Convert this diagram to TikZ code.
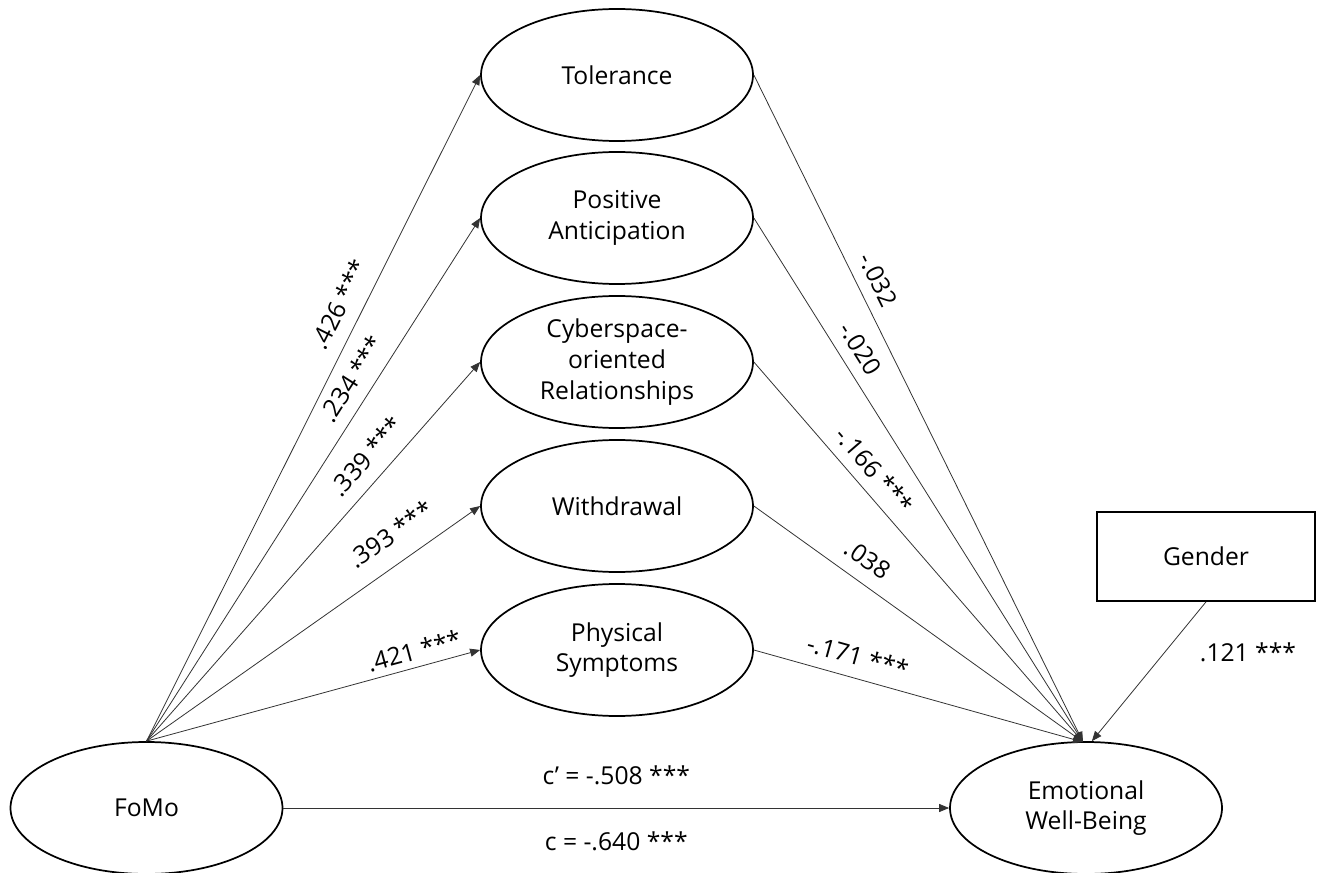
\documentclass[tikz,border=0pt]{standalone}
\usepackage{fontspec}
\setmainfont{Open Sans}
\usetikzlibrary{shapes.geometric,arrows.meta}
\begin{document}
\begin{tikzpicture}[x=0.75pt,y=-0.75pt,
  font=\fontsize{18.5pt}{23pt}\selectfont,
  latent/.style={draw, ellipse, line width=1.3pt, minimum width=204pt, minimum height=99pt, inner sep=0pt, align=center},
  obs/.style={draw, rectangle, line width=1.3pt, minimum width=163.5pt, minimum height=66.75pt},
  conn/.style={draw=black!80, line width=0.6pt, -{Triangle[length=7.5pt,width=6pt]}},
  lab/.style={sloped, above=#1, inner sep=1pt},
  lab/.default=8pt
]
\useasboundingbox (0,0) rectangle (1317,873);
\node[latent] (tol) at (617,75) {Tolerance};
\node[latent] (pa) at (617,218) {Positive\\Anticipation};
\node[latent] (cor) at (617,362) {Cyberspace-\\oriented\\Relationships};
\node[latent] (wd) at (617,506) {Withdrawal};
\node[latent] (ps) at (617,650) {Physical\\Symptoms};
\node[latent] (fomo) at (146.5,808) {FoMo};
\node[latent] (ewb) at (1086,808) {Emotional\\Well-Being};
\node[obs] (gen) at (1206,556.5) {Gender};
\coordinate (ewbin) at (1083,742);

\draw[conn] (fomo.north) -- node[lab=9pt,pos=.64]{.426 ***} (tol.west);
\draw[conn] (fomo.north) -- node[lab=8pt,pos=.67]{.234 ***} (pa.west);
\draw[conn] (fomo.north) -- node[lab=9pt,pos=.711]{.339 ***} (cor.west);
\draw[conn] (fomo.north) -- node[lab=13pt,pos=.781]{.393 ***} (wd.west);
\draw[conn] (fomo.north) -- node[lab=4pt,pos=.815]{.421 ***} (ps.west);

\draw[conn] (tol.east) -- node[lab=7.5pt,pos=.321]{-.032} (ewbin);
\draw[conn] (pa.east) -- node[lab=7.5pt,pos=.27]{-.020} (ewbin);
\draw[conn] (cor.east) -- node[lab=7pt,pos=.32]{-.166 ***} (ewbin);
\draw[conn] (wd.east) -- node[lab=9pt,pos=.306]{.038} (ewbin);
\draw[conn] (ps.east) -- node[lab=8pt,pos=.298]{-.171 ***} (ewbin);

\draw[conn] (gen.south) -- (ewb.85);
\node (g) at (1248,652) {.121 ***};

\draw[conn] (fomo.east) -- node[above=14pt]{c’ = -.508 ***} node[below=14pt]{c = -.640 ***} (ewb.west);
\end{tikzpicture}
\end{document}
